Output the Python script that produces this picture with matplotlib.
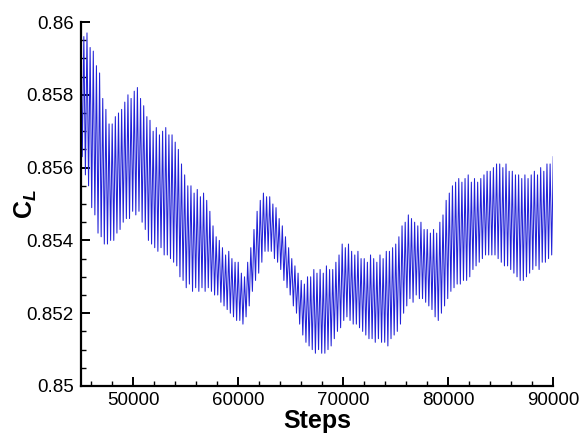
import numpy as np
import matplotlib
matplotlib.use("Agg")
import matplotlib.pyplot as plt
from matplotlib.ticker import MultipleLocator, FuncFormatter

plt.rcParams['font.family'] = ['Liberation Sans', 'DejaVu Sans']
plt.rcParams['mathtext.fontset'] = 'custom'
plt.rcParams['mathtext.it'] = 'Liberation Sans:italic:bold'
plt.rcParams['mathtext.rm'] = 'Liberation Sans:bold'

# lift coefficient history, one peak and one trough per ~300 step cycle
step_start = 45000
cycle = 300

cl_peak = [
    0.8598, 0.8596, 0.8597, 0.8593, 0.8592, 0.8588, 0.8586, 0.8579, 0.8576, 0.8572,
    0.8572, 0.8574, 0.8575, 0.8576, 0.8578, 0.8580, 0.8579, 0.8581, 0.8582, 0.8579,
    0.8577, 0.8574, 0.8573, 0.8570, 0.8571, 0.8569, 0.8570, 0.8571, 0.8569, 0.8569,
    0.8567, 0.8565, 0.8561, 0.8558, 0.8555, 0.8555, 0.8553, 0.8554, 0.8552, 0.8553,
    0.8551, 0.8548, 0.8544, 0.8541, 0.8540, 0.8538, 0.8536, 0.8537, 0.8535, 0.8534,
    0.8534, 0.8531, 0.8530, 0.8534, 0.8538, 0.8543, 0.8548, 0.8551, 0.8553, 0.8552,
    0.8552, 0.8550, 0.8549, 0.8546, 0.8544, 0.8541, 0.8538, 0.8535, 0.8533, 0.8531,
    0.8529, 0.8528, 0.8530, 0.8530, 0.8532, 0.8531, 0.8532, 0.8531, 0.8533, 0.8532,
    0.8532, 0.8534, 0.8536, 0.8539, 0.8538, 0.8539, 0.8537, 0.8536, 0.8537, 0.8535,
    0.8535, 0.8534, 0.8536, 0.8535, 0.8534, 0.8536, 0.8535, 0.8537, 0.8537, 0.8538,
    0.8539, 0.8541, 0.8544, 0.8545, 0.8547, 0.8546, 0.8545, 0.8544, 0.8545, 0.8543,
    0.8543, 0.8542, 0.8543, 0.8542, 0.8545, 0.8547, 0.8551, 0.8553, 0.8555, 0.8556,
    0.8557, 0.8556, 0.8557, 0.8558, 0.8556, 0.8557, 0.8556, 0.8557, 0.8558, 0.8559,
    0.8559, 0.8560, 0.8561, 0.8561, 0.8560, 0.8561, 0.8559, 0.8559, 0.8558, 0.8558,
    0.8557, 0.8558, 0.8557, 0.8558, 0.8559, 0.8558, 0.8560, 0.8559, 0.8561, 0.8561,
    0.8563,
]

cl_trough = [
    0.8563, 0.8558, 0.8555, 0.8549, 0.8547, 0.8542, 0.8541, 0.8539, 0.8539, 0.8540,
    0.8540, 0.8542, 0.8543, 0.8545, 0.8546, 0.8546, 0.8548, 0.8547, 0.8548, 0.8545,
    0.8543, 0.8540, 0.8539, 0.8538, 0.8537, 0.8538, 0.8536, 0.8536, 0.8535, 0.8534,
    0.8533, 0.8530, 0.8529, 0.8527, 0.8528, 0.8526, 0.8527, 0.8526, 0.8527, 0.8526,
    0.8527, 0.8526, 0.8525, 0.8525, 0.8523, 0.8522, 0.8521, 0.8520, 0.8519, 0.8518,
    0.8518, 0.8517, 0.8519, 0.8522, 0.8526, 0.8529, 0.8531, 0.8534, 0.8537, 0.8537,
    0.8537, 0.8535, 0.8534, 0.8532, 0.8529, 0.8527, 0.8525, 0.8522, 0.8520, 0.8517,
    0.8514, 0.8512, 0.8511, 0.8510, 0.8509, 0.8510, 0.8509, 0.8509, 0.8510, 0.8511,
    0.8513, 0.8515, 0.8516, 0.8518, 0.8519, 0.8518, 0.8517, 0.8517, 0.8516, 0.8515,
    0.8514, 0.8513, 0.8513, 0.8512, 0.8513, 0.8512, 0.8512, 0.8511, 0.8513, 0.8514,
    0.8515, 0.8517, 0.8520, 0.8522, 0.8524, 0.8523, 0.8525, 0.8524, 0.8524, 0.8523,
    0.8522, 0.8521, 0.8519, 0.8518, 0.8520, 0.8522, 0.8524, 0.8526, 0.8527, 0.8528,
    0.8528, 0.8529, 0.8529, 0.8530, 0.8532, 0.8533, 0.8534, 0.8535, 0.8536, 0.8536,
    0.8536, 0.8536, 0.8535, 0.8534, 0.8533, 0.8533, 0.8532, 0.8531, 0.8530, 0.8529,
    0.8529, 0.8530, 0.8531, 0.8532, 0.8533, 0.8532, 0.8534, 0.8534, 0.8535, 0.8536,
]

# interleave peaks and troughs into one series
n = len(cl_peak)
steps = step_start + cycle * np.arange(n)
x = np.empty(2 * n - 1)
y = np.empty(2 * n - 1)
x[0::2] = steps
y[0::2] = cl_peak
x[1::2] = steps[:-1] + cycle / 2
y[1::2] = cl_trough

fig = plt.figure(figsize=(5.83, 4.36), dpi=100)
ax = fig.add_axes([0.1384, 0.1147, 0.8106, 0.8348])

ax.plot(x, y, color='#2222d8', lw=0.75)

ax.set_xlim(45000, 90000)
ax.set_ylim(0.85, 0.86)

ax.spines['top'].set_visible(False)
ax.spines['right'].set_visible(False)
ax.spines['left'].set_linewidth(1.6)
ax.spines['bottom'].set_linewidth(1.6)

ax.xaxis.set_major_locator(MultipleLocator(10000))
ax.xaxis.set_minor_locator(MultipleLocator(2000))
ax.yaxis.set_major_locator(MultipleLocator(0.002))
ax.yaxis.set_minor_locator(MultipleLocator(0.0005))
ax.yaxis.set_major_formatter(FuncFormatter(lambda v, p: f'{v:.3f}'.rstrip('0')))

ax.tick_params(which='major', direction='in', length=6.5, width=1.4, labelsize=13.5)
ax.tick_params(which='minor', direction='in', length=3.3, width=1.0)
ax.tick_params(axis='y', which='major', pad=5)
ax.tick_params(axis='x', which='major', pad=4)

ax.set_xlabel('Steps', fontsize=18, fontweight='bold', labelpad=0)
ax.set_ylabel(r'$\mathrm{C}_{L}$', fontsize=18)
ax.yaxis.set_label_coords(-0.088, 0.5)

fig.savefig('out.png', dpi=100)
